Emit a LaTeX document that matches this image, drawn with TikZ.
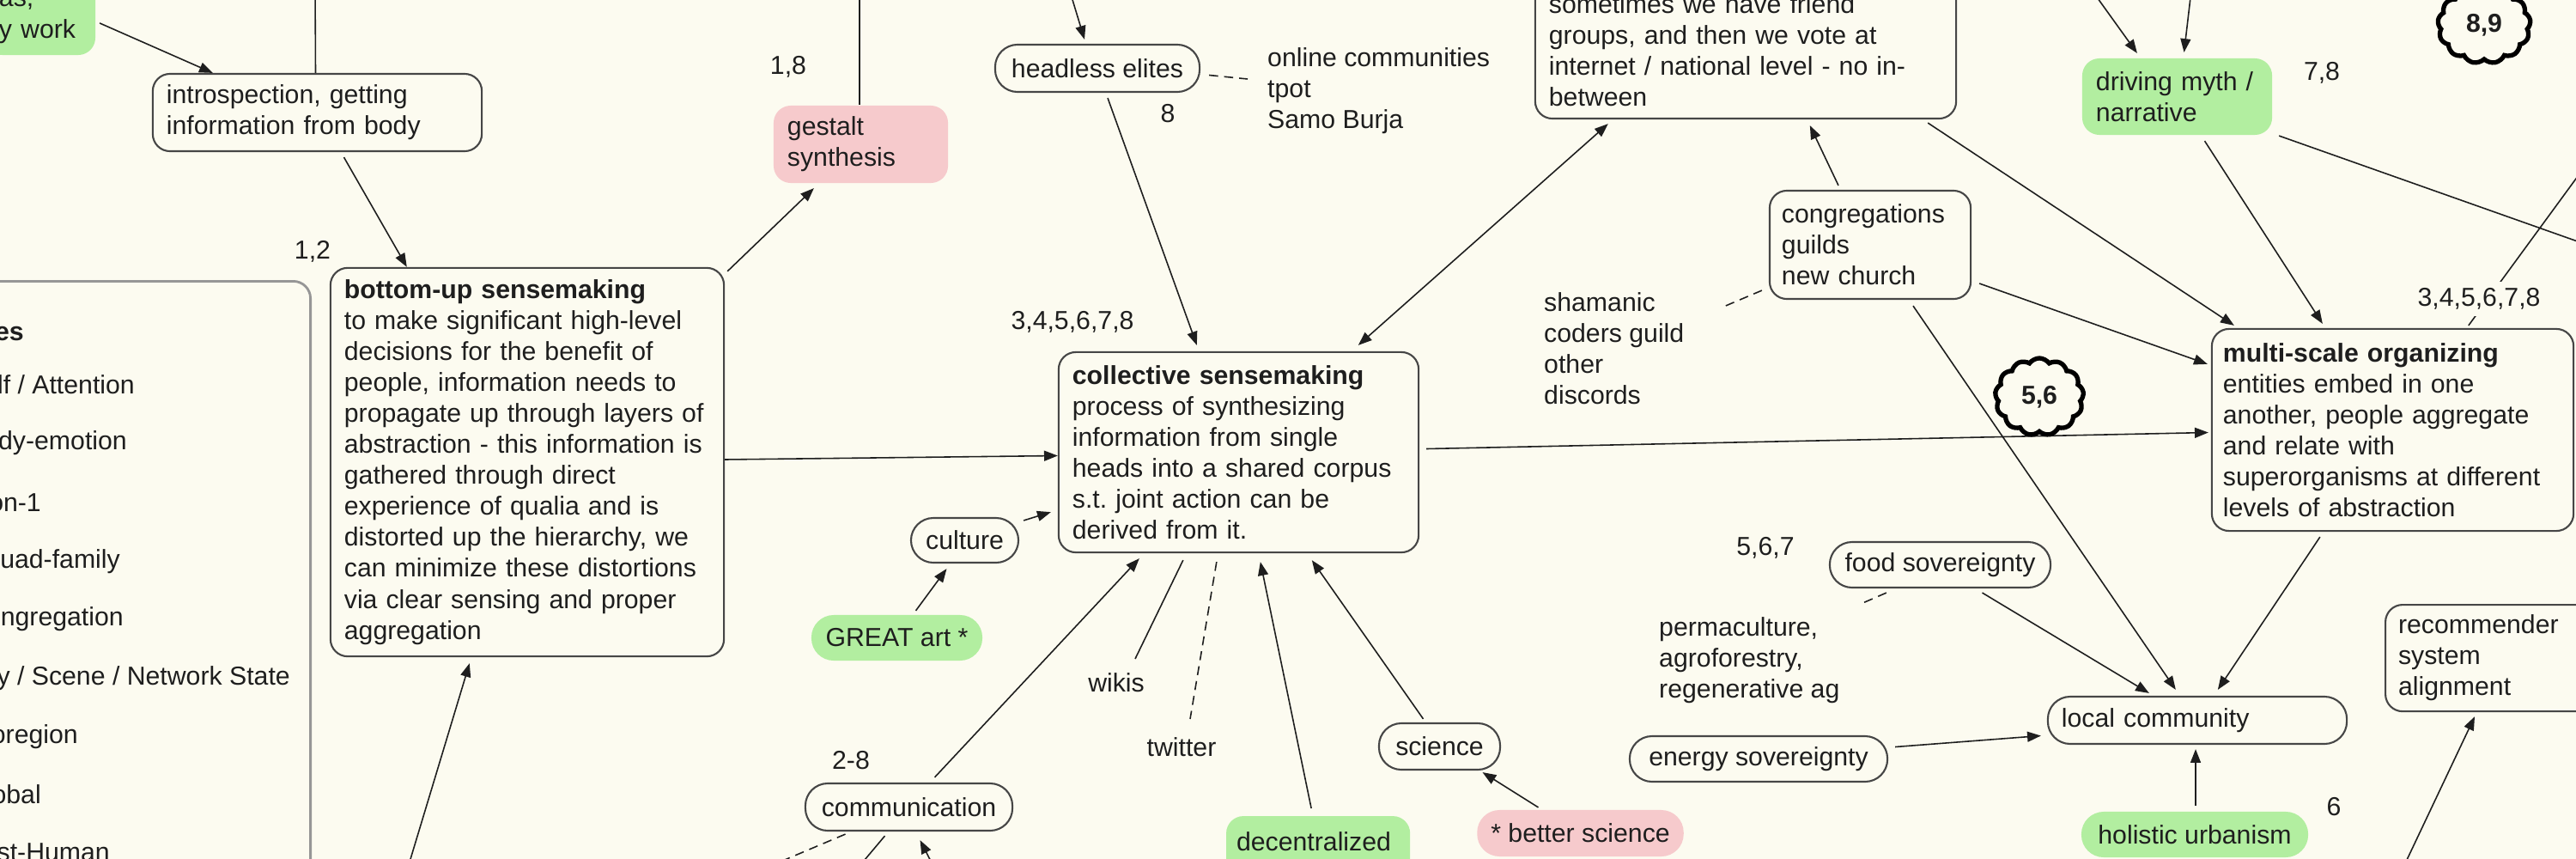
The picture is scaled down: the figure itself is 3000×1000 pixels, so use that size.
\documentclass[tikz,border=0pt]{standalone}
\usepackage{fontspec}
\setmainfont{Liberation Sans}
\usetikzlibrary{arrows.meta,calc,shapes.symbols}
\definecolor{bg}{RGB}{252,251,240}
\definecolor{gfill}{RGB}{178,238,160}
\definecolor{pfill}{RGB}{246,202,204}
\definecolor{bord}{RGB}{70,70,70}
\definecolor{ink}{RGB}{30,30,30}
\definecolor{lgb}{RGB}{150,150,150}
\frenchspacing
\tikzset{
  tbase/.style={font=\fontsize{8.6}{10.25}\selectfont, text=ink},
  nbox/.style={tbase, draw=bord, line width=0.6pt, fill=bg, rounded corners=0.2cm, align=left, inner xsep=0.16cm, inner ysep=0pt},
  npill/.style={nbox, rounded corners=0.26cm},
  gbox/.style={nbox, draw=none, fill=gfill},
  gpill/.style={npill, draw=none, fill=gfill},
  pbox/.style={nbox, draw=none, fill=pfill},
  ppill/.style={npill, draw=none, fill=pfill},
  lbl/.style={tbase, inner sep=1pt},
  lgbox/.style={draw=lgb, line width=0.8pt, rounded corners=0.2cm, fill=bg},
  cld/.style={cloud, cloud puffs=13, cloud puff arc=110, draw=black, line width=1.5pt, fill=bg, font=\fontsize{8.6}{10}\selectfont\bfseries, text=ink, inner sep=0pt},
  lnk/.style={draw=ink, line width=0.45pt},
  arr/.style={lnk, -{Triangle[length=4.5pt,width=3.4pt]}},
  darr/.style={lnk, {Triangle[length=4.5pt,width=3.4pt]}-{Triangle[length=4.5pt,width=3.4pt]}},
  dsh/.style={lnk, dash pattern=on 3pt off 2pt},
}
\begin{document}
\begin{tikzpicture}[x=0.01cm,y=-0.01cm]
\fill[bg] (0,0) rectangle (3000,1000);
\useasboundingbox (0,0) rectangle (3000,1000);

% legend (cut off)
\node (lg) [lgbox, anchor=north east, minimum width=4.63cm, minimum height=8cm] at (363,326) {};
\node (l0) [lbl, anchor=east] at (32,388) {\bfseries es};
\node (l1) [lbl, anchor=east] at (161,448) {lf / Attention};
\node (l2) [lbl, anchor=east] at (152,516) {dy-emotion};
\node (l3) [lbl, anchor=east] at (52,585) {on-1};
\node (l4) [lbl, anchor=east] at (144,654) {quad-family};
\node (l5) [lbl, anchor=east] at (148,721) {ngregation};
\node (l6) [lbl, anchor=east] at (342,790) {ty / Scene / Network State};
\node (l7) [lbl, anchor=east] at (95,858) {oregion};
\node (l8) [lbl, anchor=east] at (52,925) {obal};
\node (l9) [lbl, anchor=east] at (132,992) {st-Human};

% boxes
\node (bw) [gbox, minimum width=1.28cm, minimum height=0.86cm, text width=0.96cm] at (47,21) {as,\\y work};
\node (intro) [nbox, minimum width=3.83cm, minimum height=0.9cm, text width=3.51cm] at (369.5,131) {introspection, getting\\information from body};
\node (bu) [nbox, minimum width=4.58cm, minimum height=4.52cm, text width=4.26cm] at (614,538) {\textbf{bottom-up sensemaking}\\to make significant high-level\\decisions for the benefit of\\people, information needs to\\propagate up through layers of\\abstraction - this information is\\gathered through direct\\experience of qualia and is\\distorted up the hierarchy, we\\can minimize these distortions\\via clear sensing and proper\\aggregation};
\node (gs) [pbox, minimum width=2.03cm, minimum height=0.9cm, text width=1.71cm] at (1002.5,168) {gestalt\\synthesis};
\node (he) [npill, minimum width=2.38cm, minimum height=0.55cm] at (1278,79.5) {headless elites};
\node (co) [nbox, minimum width=4.19cm, minimum height=2.33cm, text width=3.87cm] at (1442.5,526.5) {\textbf{collective sensemaking}\\process of synthesizing\\information from single\\heads into a shared corpus\\s.t. joint action can be\\derived from it.};
\node (tb) [nbox, minimum width=4.9cm, minimum height=1.58cm, text width=4.58cm] at (2033,59) {sometimes we have friend\\groups, and then we vote at\\internet / national level - no in-\\between};
\node (cg) [nbox, minimum width=2.34cm, minimum height=1.26cm, text width=2.06cm, inner xsep=0.14cm] at (2178,285) {congregations\\guilds\\new church};
\node (dm) [gbox, minimum width=2.21cm, minimum height=0.89cm, text width=1.89cm] at (2535.5,112.5) {driving myth /\\narrative};
\node (ms) [nbox, minimum width=4.21cm, minimum height=2.35cm, text width=3.95cm, inner xsep=0.13cm] at (2786.5,500.5) {\textbf{multi-scale organizing}\\entities embed in one\\another, people aggregate\\and relate with\\superorganisms at different\\levels of abstraction};
\node (cu) [npill, minimum width=1.25cm, minimum height=0.52cm] at (1123.5,629) {culture};
\node (ga) [gpill, minimum width=1.99cm, minimum height=0.53cm] at (1044.5,742.5) {GREAT art *};
\node (cm) [npill, minimum width=2.41cm, minimum height=0.55cm] at (1058.5,939.5) {communication};
\node (sc) [npill, minimum width=1.41cm, minimum height=0.54cm] at (1676.5,869) {science};
\node (bs) [ppill, minimum width=2.39cm, minimum height=0.54cm] at (1840.5,970) {* better science};
\node (dc) [gbox, anchor=north west, minimum width=2.14cm, minimum height=0.95cm, text width=1.9cm, inner xsep=0.12cm] at (1427,949) {decentralized\\\mbox{}};
\node (fs) [npill, minimum width=2.57cm, minimum height=0.53cm] at (2259.5,657.5) {food sovereignty};
\node (es) [npill, minimum width=3.0cm, minimum height=0.53cm] at (2048,883.5) {energy sovereignty};
\node (lc) [npill, minimum width=3.48cm, minimum height=0.55cm, text width=3.16cm] at (2559,838.5) {local community};
\node (hu) [gpill, minimum width=2.64cm, minimum height=0.53cm] at (2556,971.5) {holistic urbanism};
\node (rc) [nbox, anchor=north west, minimum width=3.0cm, minimum height=1.24cm, text width=2.7cm, inner xsep=0.15cm] at (2777,703) {recommender\\system\\alignment};

% plain texts
\node (oc) [lbl, anchor=west, align=left] at (1472,106) {online communities\\tpot\\Samo Burja};
\node (sh) [lbl, anchor=west, align=left] at (1794,406) {shamanic\\coders guild\\other\\discords};
\node (pm) [lbl, anchor=west, align=left] at (1928,769) {permaculture,\\agroforestry,\\regenerative ag};
\node (wk) [lbl] at (1300,795) {wikis};
\node (tw) [lbl] at (1376,870) {twitter};

% number labels
\node (n12) [lbl] at (364,293) {1,2};
\node (n18) [lbl] at (918,78) {1,8};
\node (n8) [lbl] at (1360,132) {8};
\node (n345a) [lbl] at (1249,375) {3,4,5,6,7,8};
\node (n28) [lbl] at (991,885) {2-8};
\node (n567) [lbl] at (2056,638) {5,6,7};
\node (n6) [lbl] at (2718,939) {6};
\node (n78) [lbl] at (2704,85) {7,8};

% free ends
\coordinate (upA) at (367,-20);
\coordinate (upB) at (1001,-20);
\coordinate (heIn) at (1243,-20);
\coordinate (dmA) at (2430,-20);
\coordinate (dmB) at (2553,-20);
\coordinate (dmR) at (3030,291);
\coordinate (msR) at (3030,167);
\coordinate (buIn) at (472,1020);
\coordinate (cmA) at (869,1020);
\coordinate (cmB) at (991,1020);
\coordinate (cmIn) at (1093,1020);
\coordinate (rcIn) at (2794,1020);
\coordinate (shE) at (2005,358);
\coordinate (pmE) at (2167,703);
\coordinate (ocE) at (1453,92);
\coordinate (wkE) at (1322,767);
\coordinate (twE) at (1386,837);

% connectors
\draw[arr] ($(bw.north east)+(4,50)$) -- ($(intro.north west)+(71,0)$);
\draw[lnk] ($(intro.north)+(-2,0)$) -- (upA);
\draw[arr] ($(intro.south)+(31,6)$) -- ($(bu.north west)+(90,0)$);
\draw[arr] ($(bu.north east)+(3,5)$) -- ($(gs.south west)+(48,5)$);
\draw[lnk] ($(gs.north)+(-1.5,0)$) -- (upB);
\draw[arr] ($(bu.east)+(0,-3)$) -- ($(co.west)+(0,4)$);
\draw[arr] ($(cu.north east)+(5,4)$) -- ($(co.south west)+(-8,-48)$);
\draw[arr] ($(ga.north)+(22,-4)$) -- ($(cu.south)+(-21,6)$);
\draw[arr] ($(cm.north)+(30,-6)$) -- ($(co.south west)+(95,6)$);
\draw[lnk] ($(co.south west)+(146,8)$) -- (wkE);
\draw[dsh] ($(co.south west)+(185,10)$) -- (twE);
\draw[arr] ($(dc.north)+(-8,-8)$) -- ($(co.south west)+(236,10)$);
\draw[arr] ($(sc.north)+(-19,-4)$) -- ($(co.south west)+(296,8)$);
\draw[arr] ($(bs.north)+(-49,-2)$) -- ($(sc.south)+(50,2)$);
\draw[dsh] ($(cm.south)+(-74,3)$) -- (cmA);
\draw[lnk] ($(cm.south)+(-28,5)$) -- (cmB);
\draw[arr] (cmIn) -- ($(cm.south)+(13,10)$);
\draw[arr] (buIn) -- ($(bu.south west)+(163,7)$);
\draw[arr] ($(he.south)+(12,6)$) -- ($(co.north west)+(162,-7)$);
\draw[arr] (heIn) -- ($(he.north)+(-15,-5)$);
\draw[dsh] ($(he.east)+(10,8)$) -- (ocE);
\draw[darr] ($(tb.south west)+(86,5)$) -- ($(co.north west)+(350,-7)$);
\draw[arr] ($(cg.north)+(-37,-5)$) -- ($(tb.south west)+(321,7)$);
\draw[arr] ($(tb.south east)+(-34,4)$) -- ($(ms.north west)+(27,-3)$);
\draw[arr] ($(cg.east)+(9,45)$) -- ($(ms.north west)+(-4,42)$);
\draw[arr] ($(cg.south)+(50,7)$) -- ($(lc.north west)+(150,-7)$);
\draw[dsh] ($(cg.south west)+(-8,-11)$) -- (shE);
\draw[arr] ($(co.east)+(8,-4)$) -- ($(ms.west)+(-3,3)$);
\draw[arr] ($(ms.south west)+(127,6)$) -- ($(lc.north west)+(199,-7)$);
\draw[arr] ($(fs.south)+(49,5)$) -- ($(lc.north west)+(119,-3)$);
\draw[dsh] ($(fs.south west)+(67,5)$) -- (pmE);
\draw[arr] ($(es.east)+(8,-14)$) -- ($(lc.west)+(-7,18)$);
\draw[arr] ($(hu.north)+(1,-6)$) -- ($(lc.south)+(-2,5)$);
\draw[arr] (rcIn) -- ($(rc.south west)+(105,5)$);
\draw[arr] (dmA) -- ($(dm.north west)+(65,-5)$);
\draw[arr] (dmB) -- ($(dm.north)+(8,-6)$);
\draw[arr] ($(dm.south)+(32,6)$) -- ($(ms.north west)+(130,-5)$);
\draw[lnk] ($(dm.south east)+(7,0)$) -- (dmR);
\draw[lnk] ($(ms.north west)+(300,-3)$) -- (msR);

% clouds and covering label
\node (c56) [cld, minimum width=1.03cm, minimum height=0.9cm] at (2375,462) {5,6};
\node (c89) [cld, minimum width=1.08cm, minimum height=0.9cm] at (2893,29) {8,9};
\node (n345b) [lbl, fill=bg, inner sep=2pt] at (2887,348) {3,4,5,6,7,8};
\end{tikzpicture}
\end{document}
